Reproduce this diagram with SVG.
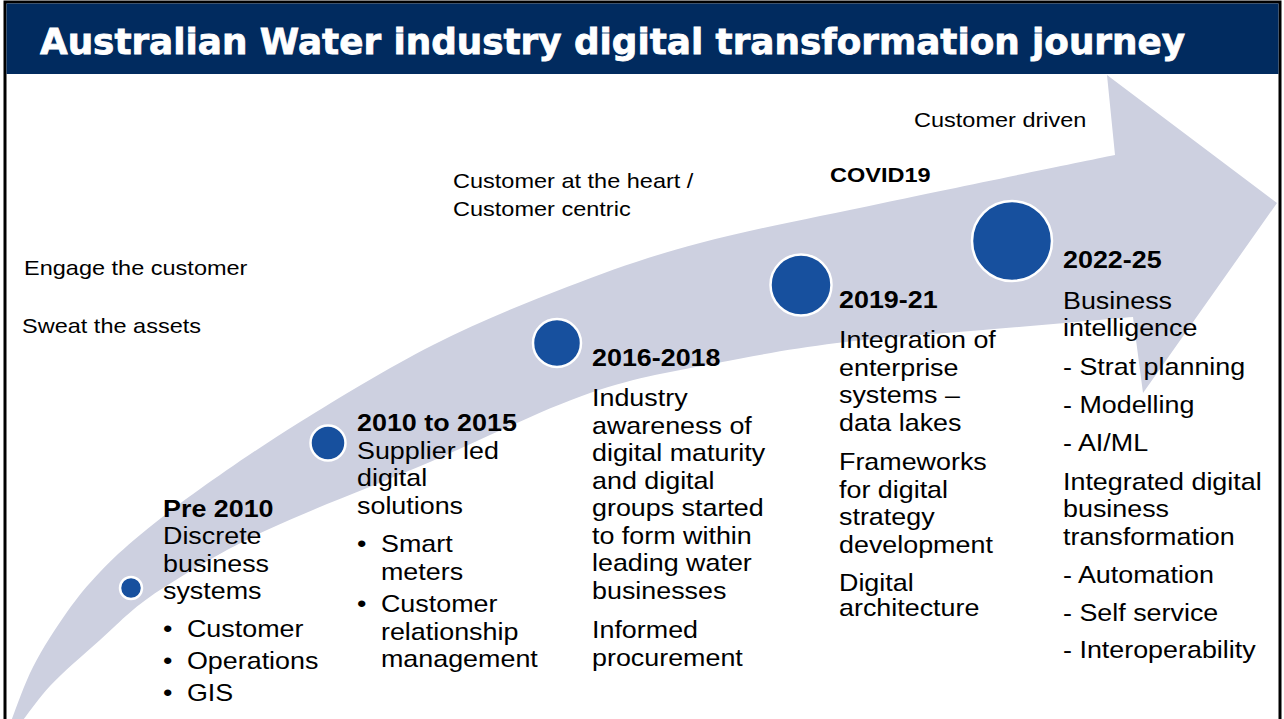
<svg xmlns="http://www.w3.org/2000/svg" width="1284" height="719" viewBox="0 0 1284 719">
  <defs>
    <style>
      .t { font-family: "Liberation Sans", Arial, sans-serif; font-size: 24px; fill: #000; }
      .h { font-weight: bold; }
      .s { font-size: 21px; }
      .dot { fill: #17509e; stroke: #fff; stroke-width: 2.5; }
      .band { fill: #cdd0e0; }
    </style>
  </defs>

  <!-- frame and title bar -->
  <rect x="5" y="2" width="1275" height="740" fill="#fff" stroke="#000" stroke-width="3"/>
  <rect x="6.5" y="3.5" width="1272" height="70.5" fill="#012b5f"/>
  <text x="40" y="54" font-family="'DejaVu Sans', Verdana, sans-serif" font-size="36" font-weight="bold" fill="#fff" stroke="#fff" stroke-width="0.8" textLength="1145" lengthAdjust="spacingAndGlyphs">Australian Water industry digital transformation journey</text>

  <!-- curved journey arrow -->
  <g id="connectors">
    <path class="band" d="M10,724 C13.8,714.5 23.5,685.7 33,667 C42.5,648.3 55.8,627.8 67,612 C78.2,596.2 87.8,584.8 100,572 C112.2,559.2 123.3,548.8 140,535 C156.7,521.2 173.3,507.8 200,489 C226.7,470.2 261.2,446 300,422 C338.8,398 388.5,367.5 433,345 C477.5,322.5 522.5,304 567,287 C611.5,270 647,257 700,243 C752.7,229 814,217.7 883,203 C952,188.3 1076,163 1115,155 L1107,75 L1277,203 L1143,393 L1133,317 C1108,319 1032,326 983,330 C934,334 881,337.5 837,343 C793,348.5 758,355 717,363 C676,371 638,376.5 590,393 C542,409.5 484,439 430,462 C376,485 312,509 267,530 C222,551 188,572 160,590 C132,608 118,624 100,640 C82,656 63,672 50,686 C37,700 25,718 20,724 Z"/>
  </g>

  <!-- side annotations -->
  <g id="annotations">
    <g transform="translate(914 0) scale(1.12 1)"><text class="t s" x="0" y="127">Customer driven</text></g>
    <g transform="translate(830 0) scale(1.12 1)"><text class="t s h" x="0" y="182">COVID19</text></g>
    <g transform="translate(453 0) scale(1.12 1)">
      <text class="t s" x="0" y="188.5">Customer at the heart /</text>
      <text class="t s" x="0" y="216.5">Customer centric</text>
    </g>
    <g transform="translate(24 0) scale(1.12 1)"><text class="t s" x="0" y="275">Engage the customer</text></g>
    <g transform="translate(22 0) scale(1.12 1)"><text class="t s" x="0" y="333">Sweat the assets</text></g>
  </g>

  <!-- milestone: Pre 2010 -->
  <g id="node-pre2010">
    <circle class="dot" cx="131" cy="588" r="11"/>
    <g transform="translate(163 0) scale(1.12 1)">
      <text class="t h" x="0" y="517">Pre 2010</text>
      <text class="t" x="0" y="544.5">Discrete</text>
      <text class="t" x="0" y="572">business</text>
      <text class="t" x="0" y="599.5">systems</text>
      <text class="t" x="0" y="637.5">•</text><text class="t" x="21.4" y="637.5">Customer</text>
      <text class="t" x="0" y="669.5">•</text><text class="t" x="21.4" y="669.5">Operations</text>
      <text class="t" x="0" y="701.5">•</text><text class="t" x="21.4" y="701.5">GIS</text>
    </g>
  </g>

  <!-- milestone: 2010 to 2015 -->
  <g id="node-2010">
    <circle class="dot" cx="328" cy="443" r="17.5"/>
    <g transform="translate(357 0) scale(1.12 1)">
      <text class="t h" x="0" y="431.5">2010 to 2015</text>
      <text class="t" x="0" y="459">Supplier led</text>
      <text class="t" x="0" y="486.5">digital</text>
      <text class="t" x="0" y="514">solutions</text>
      <text class="t" x="0" y="552.5">•</text><text class="t" x="21.4" y="552.5">Smart</text>
      <text class="t" x="21.4" y="580">meters</text>
      <text class="t" x="0" y="612.5">•</text><text class="t" x="21.4" y="612.5">Customer</text>
      <text class="t" x="21.4" y="640">relationship</text>
      <text class="t" x="21.4" y="667.5">management</text>
    </g>
  </g>

  <!-- milestone: 2016-2018 -->
  <g id="node-2016">
    <circle class="dot" cx="557" cy="343" r="24"/>
    <g transform="translate(592 0) scale(1.12 1)">
      <text class="t h" x="0" y="366.5">2016-2018</text>
      <text class="t" x="0" y="406.5">Industry</text>
      <text class="t" x="0" y="434">awareness of</text>
      <text class="t" x="0" y="461.5">digital maturity</text>
      <text class="t" x="0" y="489">and digital</text>
      <text class="t" x="0" y="516.5">groups started</text>
      <text class="t" x="0" y="544">to form within</text>
      <text class="t" x="0" y="571.5">leading water</text>
      <text class="t" x="0" y="599">businesses</text>
      <text class="t" x="0" y="638.5">Informed</text>
      <text class="t" x="0" y="666">procurement</text>
    </g>
  </g>

  <!-- milestone: 2019-21 -->
  <g id="node-2019">
    <circle class="dot" cx="801" cy="285" r="30.5"/>
    <g transform="translate(839 0) scale(1.12 1)">
      <text class="t h" x="0" y="308.5">2019-21</text>
      <text class="t" x="0" y="348.5">Integration of</text>
      <text class="t" x="0" y="376">enterprise</text>
      <text class="t" x="0" y="403.5">systems –</text>
      <text class="t" x="0" y="431">data lakes</text>
      <text class="t" x="0" y="470.5">Frameworks</text>
      <text class="t" x="0" y="498">for digital</text>
      <text class="t" x="0" y="525.5">strategy</text>
      <text class="t" x="0" y="553">development</text>
      <text class="t" x="0" y="591.5">Digital</text>
      <text class="t" x="0" y="616.5">architecture</text>
    </g>
  </g>

  <!-- milestone: 2022-25 -->
  <g id="node-2022">
    <circle class="dot" cx="1012" cy="241" r="40"/>
    <g transform="translate(1063 0) scale(1.12 1)">
      <text class="t h" x="0" y="268">2022-25</text>
      <text class="t" x="0" y="309">Business</text>
      <text class="t" x="0" y="336.5">intelligence</text>
      <text class="t" x="0" y="375">- Strat planning</text>
      <text class="t" x="0" y="413.5">- Modelling</text>
      <text class="t" x="0" y="451.5">- AI/ML</text>
      <text class="t" x="0" y="490">Integrated digital</text>
      <text class="t" x="0" y="517">business</text>
      <text class="t" x="0" y="545">transformation</text>
      <text class="t" x="0" y="583.5">- Automation</text>
      <text class="t" x="0" y="621.5">- Self service</text>
      <text class="t" x="0" y="658.5">- Interoperability</text>
    </g>
  </g>
</svg>
